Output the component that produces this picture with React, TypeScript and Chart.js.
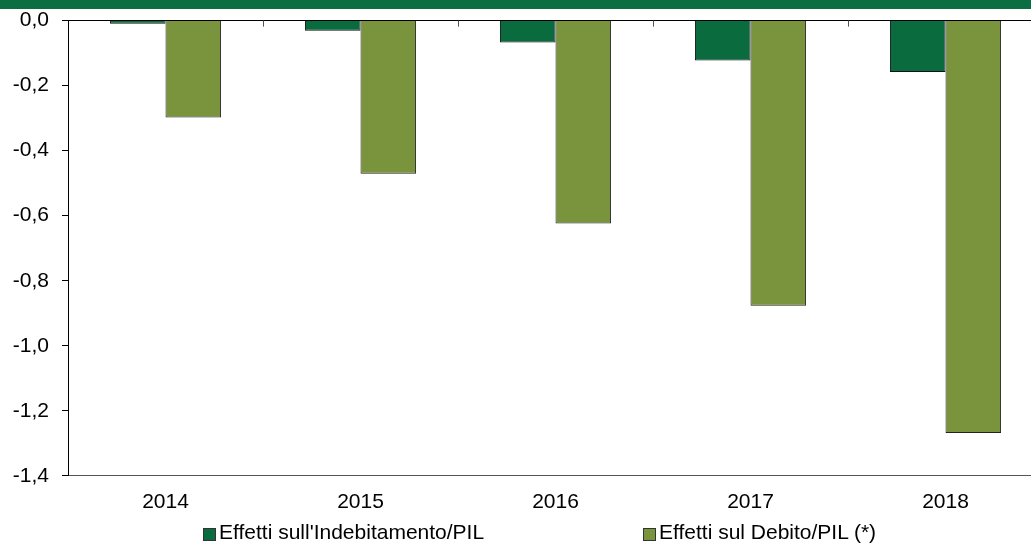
import React, { useEffect, useRef } from "react";
import { Chart, registerables } from "chart.js";

Chart.register(...registerables);

const categories = ["2014", "2015", "2016", "2017", "2018"];
const indebitamento = [-0.01, -0.031, -0.067, -0.123, -0.158];
const debito = [-0.298, -0.471, -0.624, -0.877, -1.268];
const seriesNames = ["Effetti sull'Indebitamento/PIL", "Effetti sul Debito/PIL (*)"];
const yMin = -1.4;
const yMax = 0;
const yStep = 0.2;

const DARK = "#0A6B3E";
const OLIVE = "#7A943E";
const FONT = "'Liberation Sans', Arial, sans-serif";

const topTicks = {
  id: "topTicks",
  afterDatasetsDraw(chart: any) {
    const x = chart.scales.x;
    const y = chart.scales.y;
    const y0 = y.getPixelForValue(0);
    const ctx = chart.ctx;
    ctx.save();
    ctx.strokeStyle = "#555";
    ctx.lineWidth = 1;
    for (let i = 0; i < categories.length - 1; i++) {
      const xb = Math.round((x.getPixelForValue(i) + x.getPixelForValue(i + 1)) / 2) + 0.5;
      ctx.beginPath();
      ctx.moveTo(xb, y0);
      ctx.lineTo(xb, y0 + 6);
      ctx.stroke();
    }
    ctx.restore();
  },
};

export default function App() {
  const ref = useRef<HTMLCanvasElement>(null);
  useEffect(() => {
    if (!ref.current) return;
    const chart = new Chart(ref.current, {
      type: "bar",
      data: {
        labels: categories,
        datasets: [
          {
            label: seriesNames[0],
            data: indebitamento,
            backgroundColor: DARK,
            borderColor: "#111",
            borderWidth: 1,
          },
          {
            label: seriesNames[1],
            data: debito,
            backgroundColor: OLIVE,
            borderColor: "#222",
            borderWidth: 1,
          },
        ],
      },
      options: {
        animation: false,
        responsive: false,
        devicePixelRatio: 1,
        layout: { padding: { top: 10, right: 7, bottom: 1, left: 0 } },
        datasets: { bar: { categoryPercentage: 0.57, barPercentage: 1 } },
        plugins: { legend: { display: false }, tooltip: { enabled: false } },
        scales: {
          x: {
            grid: { display: false, drawTicks: false },
            border: { display: true, color: "#555", width: 1 },
            ticks: { color: "#000", padding: 14, font: { family: FONT, size: 21 } },
          },
          y: {
            min: yMin,
            max: yMax,
            afterFit: (s: any) => {
              s.width = 68;
            },
            grid: {
              drawOnChartArea: true,
              color: (c: any) => (c.tick && Math.abs(c.tick.value) < 1e-9 ? "#000" : "rgba(0,0,0,0)"),
              tickColor: "#000",
              tickLength: 6,
            },
            border: { display: true, color: "#000", width: 1 },
            ticks: {
              stepSize: yStep,
              color: "#000",
              padding: 13,
              font: { family: FONT, size: 21 },
              callback: (v: any) => {
                const n = Number(v);
                if (Math.abs(n) < 1e-9) return "0,0";
                return n.toFixed(1).replace(".", ",");
              },
            },
          },
        },
      },
      plugins: [topTicks],
    });
    return () => chart.destroy();
  }, []);

  const legendText: React.CSSProperties = {
    position: "absolute",
    top: 520,
    fontFamily: FONT,
    fontSize: 21,
    lineHeight: "24px",
    color: "#000",
    whiteSpace: "nowrap",
  };
  const box = (left: number, color: string): React.CSSProperties => ({
    position: "absolute",
    left,
    top: 528,
    width: 11,
    height: 11,
    background: color,
    border: "1px solid #333",
  });

  return (
    <div
      style={{
        position: "fixed",
        left: 0,
        top: 0,
        width: 1031,
        height: 544,
        overflow: "hidden",
        background: "#fff",
      }}
    >
      <canvas ref={ref} width={1050} height={535} style={{ position: "absolute", left: 0, top: -5 }} />
      <div style={{ position: "absolute", left: 0, top: 0, width: 1031, height: 9, background: "#0A6E42" }} />
      <div style={box(203, DARK)} />
      <span style={{ ...legendText, left: 219 }}>{seriesNames[0]}</span>
      <div style={box(643, OLIVE)} />
      <span style={{ ...legendText, left: 659 }}>{seriesNames[1]}</span>
    </div>
  );
}
